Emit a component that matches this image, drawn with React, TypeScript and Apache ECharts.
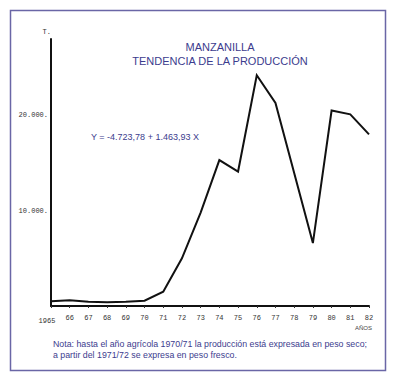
import React, { useEffect, useRef } from "react";
import * as echarts from "echarts";

const years = [1965, 1966, 1967, 1968, 1969, 1970, 1971, 1972, 1973, 1974, 1975, 1976, 1977, 1979, 1980, 1981, 1982];
const production = [500, 600, 450, 400, 450, 550, 1500, 5000, 9800, 15300, 14100, 24200, 21300, 6600, 20500, 20100, 18000];
const yTickLabels: Record<number, string> = { 10000: "10.000", 20000: "20.000" };
const titleLines = ["MANZANILLA", "TENDENCIA DE LA PRODUCCIÓN"];
const equation = "Y = -4.723,78 + 1.463,93 X";
const noteLines = [
  "Nota: hasta el año agrícola 1970/71 la producción está expresada en peso seco;",
  "a partir del 1971/72 se expresa en peso fresco.",
];

const BLUE = "#3c3c8e";

export default function App() {
  const ref = useRef<HTMLDivElement>(null);
  useEffect(() => {
    if (!ref.current) return;
    const chart = echarts.init(ref.current, undefined, { renderer: "svg" });
    const data = years.map((y, i) => [y, production[i]]);
    chart.setOption({
      animation: false,
      backgroundColor: "#ffffff",
      title: {
        text: titleLines.join("\n"),
        left: 215,
        top: 35,
        textAlign: "center",
        textStyle: {
          fontFamily: "Liberation Sans",
          fontSize: 11,
          fontWeight: "normal",
          color: BLUE,
          lineHeight: 14,
        },
      },
      grid: { left: 51, top: 39, width: 318, height: 267 },
      xAxis: {
        type: "value",
        min: 1965,
        max: 1982,
        interval: 1,
        splitLine: { show: false },
        axisLine: { lineStyle: { color: "#111", width: 2 } },
        axisTick: { inside: false, length: 2, lineStyle: { color: "#333", width: 1 } },
        axisLabel: {
          margin: 8,
          fontFamily: "Liberation Mono",
          fontSize: 7,
          color: "#333",
          formatter: (v: number) => (v === 1965 ? "{a|1965}" : String(v).slice(2)),
          rich: {
            a: { fontFamily: "Liberation Mono", fontSize: 7, color: "#333", padding: [3, 8, 0, 0] },
          },
        },
      },
      yAxis: {
        type: "value",
        min: 0,
        max: 28000,
        interval: 10000,
        name: "T.",
        nameLocation: "end",
        nameGap: 4,
        nameTextStyle: { fontFamily: "Liberation Mono", fontSize: 7, color: "#333", align: "right", padding: [0, 0, 0, 0] },
        splitLine: { show: false },
        axisLine: { lineStyle: { color: "#111", width: 2 } },
        axisTick: { show: false },
        axisLabel: {
          margin: 3,
          fontFamily: "Liberation Mono",
          fontSize: 7,
          color: "#333",
          formatter: (v: number) => (yTickLabels[v] ? yTickLabels[v] + "." : ""),
        },
      },
      series: [
        {
          type: "line",
          data,
          symbol: "none",
          lineStyle: { color: "#111", width: 2, join: "miter" },
        },
      ],
      graphic: [
        {
          type: "rect",
          shape: { x: 10.5, y: 10.5, width: 375, height: 360 },
          style: { fill: "none", stroke: "#6a66a6", lineWidth: 1.5 },
          silent: true,
        },
        {
          type: "text",
          x: 91,
          y: 137,
          style: {
            text: equation,
            fontFamily: "Liberation Sans",
            fontSize: 9,
            fill: BLUE,
            verticalAlign: "middle",
          },
        },
        {
          type: "text",
          x: 355,
          y: 328,
          style: {
            text: "AÑOS",
            fontFamily: "Liberation Sans",
            fontSize: 6,
            fill: "#444",
            verticalAlign: "middle",
          },
        },
        {
          type: "text",
          x: 53,
          y: 344,
          style: {
            text: noteLines[0],
            fontFamily: "Liberation Sans",
            fontSize: 8.8,
            fill: BLUE,
            verticalAlign: "middle",
          },
        },
        {
          type: "text",
          x: 53,
          y: 355,
          style: {
            text: noteLines[1],
            fontFamily: "Liberation Sans",
            fontSize: 8.8,
            fill: BLUE,
            verticalAlign: "middle",
          },
        },
      ],
    });
    return () => chart.dispose();
  }, []);
  return (
    <div
      ref={ref}
      style={{ position: "fixed", left: 0, top: 0, width: 397, height: 381 }}
    />
  );
}
